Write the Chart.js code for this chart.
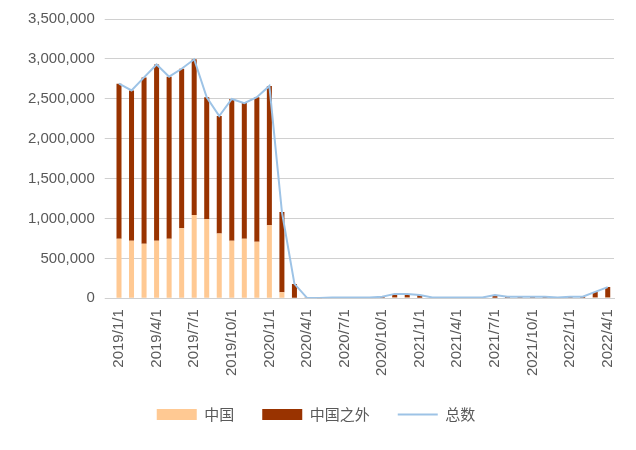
<!DOCTYPE html><html><head><meta charset="utf-8"><script src="https://cdn.jsdelivr.net/npm/chart.js@4"></script>
<style>body{margin:0;background:#fff}#w{width:636px;height:450px}</style></head><body><div id="w"><canvas id="c"></canvas></div><script>
const categories=[];for(let y=2019;y<=2022;y++)for(let m=1;m<=12;m++){if(y===2022&&m>4)break;categories.push(y+'/'+m+'/1');}
const total=[2690000,2605000,2768000,2930000,2777000,2876000,2995000,2519000,2283000,2498000,2446000,2519000,2661000,1082000,180000,5000,3000,10000,10000,10000,10000,20000,55000,55000,40000,10000,10000,10000,10000,10000,40000,20000,20000,20000,20000,10000,20000,20000,80000,140000];
const china=[747000,721000,682000,721000,747000,876000,1043000,991000,811000,721000,747000,708000,914000,77000,0,2000,1000,3000,3000,3000,3000,5000,10000,10000,8000,3000,3000,3000,3000,3000,8000,5000,5000,5000,5000,3000,5000,5000,10000,10000];
const outside=total.map((t,i)=>t-china[i]);
new Chart(document.getElementById('c'),{data:{labels:categories,datasets:[
{type:'bar',label:'中国',data:china,backgroundColor:'#ffc993',stack:'s',barPercentage:0.4,categoryPercentage:1,order:2,pointStyle:'rect'},
{type:'bar',label:'中国之外',data:outside,backgroundColor:'#993300',stack:'s',barPercentage:0.4,categoryPercentage:1,order:2,pointStyle:'rect'},
{type:'line',label:'总数',data:total,borderColor:'#9dc3e6',backgroundColor:'#9dc3e6',borderWidth:2,pointRadius:0,tension:0,order:1,pointStyle:'line'}]},
options:{animation:false,responsive:true,maintainAspectRatio:false,layout:{padding:{left:18,right:22,top:14,bottom:18}},
plugins:{legend:{position:'bottom',labels:{usePointStyle:true,pointStyleWidth:40,sort:(a,b)=>a.datasetIndex-b.datasetIndex,font:{family:'Noto Sans CJK SC',size:15},color:'#595959',boxHeight:11,padding:28}},tooltip:{enabled:false}},
scales:{x:{stacked:true,grid:{display:false},border:{color:'#d0d0d0'},ticks:{autoSkip:false,maxRotation:90,minRotation:90,color:'#595959',font:{family:'Liberation Sans',size:15},callback:(v,i)=>i%3===0?categories[i]:''}},
y:{stacked:true,min:0,max:3500000,ticks:{stepSize:500000,padding:10,color:'#595959',font:{family:'Liberation Sans',size:15},callback:v=>v.toLocaleString('en-US')},grid:{color:'#d0d0d0'},border:{display:false}}}}});
</script></body></html>
